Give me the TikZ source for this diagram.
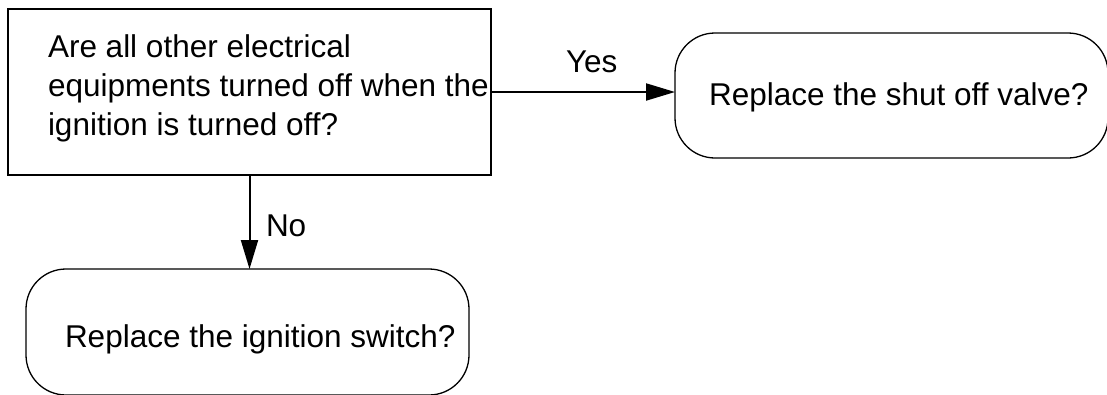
\documentclass[tikz,border=0pt]{standalone}
\usepackage{fontspec}
\setmainfont{Liberation Sans}
\usetikzlibrary{arrows.meta}
\begin{document}
\begin{tikzpicture}[x=1pt,y=-1pt,
  every node/.style={inner sep=0pt, outer sep=0pt},
  qbox/.style={draw, line width=2pt, rectangle, minimum width=483pt, minimum height=166pt},
  abox/.style={draw, line width=1.3pt, rectangle, rounded corners=40pt},
  txt/.style={font=\fontsize{31.5}{39}\selectfont, anchor=base west, align=left},
  arr/.style={line width=2pt, -{Triangle[length=29pt,width=17pt]}}
]
\useasboundingbox (0,0) rectangle (1107,394);
\begin{scope}
\clip (0,0) rectangle (1107,394);
\node[qbox] (q) at (249.5,92) {};
\node[abox, minimum width=433pt, minimum height=125pt] (r) at (891.5,95.5) {};
\node[abox, minimum width=443pt, minimum height=126pt] (s) at (247.5,332) {};
\end{scope}
\node[txt] (qt) at (48,135) {Are all other electrical\\equipments turned off when the\\ignition is turned off?};
\node[txt] (rt) at (709,105) {Replace the shut off valve?};
\node[txt] (st) at (65,347) {Replace the ignition switch?};
\draw[arr] (q.east) -- (q.east -| r.west);
\node[txt] (yes) at (566,72) {Yes};
\draw[arr] (q.south) -- (q.south |- s.north);
\node[txt] (no) at (266,236) {No};
\end{tikzpicture}
\end{document}
